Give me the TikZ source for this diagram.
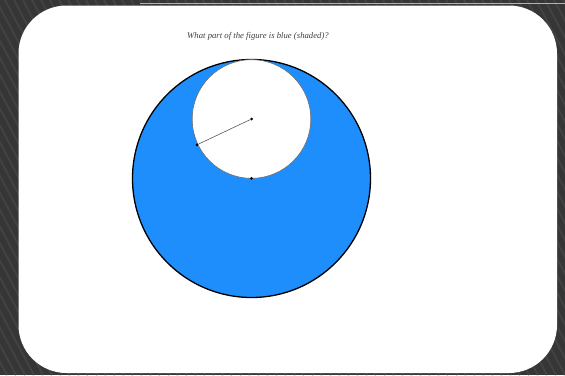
\documentclass[tikz,border=0pt]{standalone}
\usepackage{fontspec}
\setmainfont{Liberation Serif}
\begin{document}
\begin{tikzpicture}[x=1pt,y=-1pt,
  dotnode/.style={circle,fill=black,inner sep=0pt,minimum size=3pt},
  bigc/.style={circle,draw=black,line width=1.3pt,fill=shadeblue,inner sep=0pt,minimum size=238pt},
  smallc/.style={circle,draw=gray!85!black,line width=0.6pt,fill=white,inner sep=0pt,minimum size=118.6pt}]
\definecolor{shadeblue}{RGB}{30,142,252}
\definecolor{bgdark}{RGB}{54,54,54}
\definecolor{bgstripe}{RGB}{66,66,66}
\useasboundingbox (0,0) rectangle (565,375);
\fill[bgdark] (0,0) rectangle (565,375);
\begin{scope}
\clip (0,0) rectangle (565,375);
\foreach \x in {-220,-211,...,580} {
  \draw[bgstripe,line width=2pt] (\x,0) -- ++(200,375);
}
\end{scope}
\draw[gray!60,line width=0.6pt] (140,3) -- (565,3);
\fill[white,rounded corners=48pt] (18.5,5.5) rectangle (557,373);
\node[font=\itshape\fontsize{8.7}{10}\selectfont,text=black!75] (title) at (258,36) {What part of the figure is blue (shaded)?};
\node[bigc] (big) at (251.5,178.5) {};
\node[smallc] (small) at (251.5,119) {};
\node[dotnode] (c) at (251.5,119) {};
\node[dotnode] (p) at (197,144.8) {};
\node[dotnode] (b) at (251.5,178.3) {};
\draw[gray!70!black,line width=0.6pt] (c) -- (p);
\end{tikzpicture}
\end{document}
